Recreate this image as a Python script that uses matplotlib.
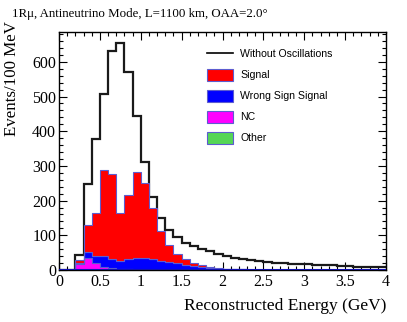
import numpy as np
import matplotlib
matplotlib.use("Agg")
import matplotlib.pyplot as plt
from matplotlib.patches import Patch
from matplotlib.lines import Line2D
from matplotlib.ticker import MultipleLocator, FuncFormatter

# ---- data (events per 100 MeV bin, 0-4 GeV) ----
bin_width = 0.1
n_bins = 40
no_osc = [0, 0, 42, 247, 378, 508, 631, 655, 571, 445, 311, 211, 149, 115, 96, 79,
          68, 61, 54, 47, 41, 36, 32, 29, 26, 23, 21, 19, 18, 17, 16, 15, 14, 13, 12,
          11, 10, 10, 9, 8]
other = [0, 0, 0, 1, 1, 1, 0, 0, 0, 0, 0, 0, 0, 0, 0, 0, 0, 0, 0, 0,
         0, 0, 0, 0, 0, 0, 0, 0, 0, 0, 0, 0, 0, 0, 0, 0, 0, 0, 0, 0]
nc = [0, 0, 17, 35, 18, 9, 6, 3, 2, 1, 1, 1, 0.5, 0.5, 0, 0, 0, 0, 0, 0,
      0, 0, 0, 0, 0, 0, 0, 0, 0, 0, 0, 0, 0, 0, 0, 0, 0, 0, 0, 0]
wrong_sign = [0, 0, 3, 15, 22, 31, 27, 23, 29, 35, 34, 30, 26.5, 21.5, 19, 15, 12, 9, 6, 4,
              3, 2, 1.5, 1, 1, 0.5, 0.5, 0.5, 0.5, 0.3, 0.3, 0.3, 0.2, 0.2, 0.2, 0.2,
              0.1, 0.1, 0.1, 0.1]
signal = [0, 0, 9, 79, 122, 248, 244, 139, 186, 246, 215, 147, 86, 51, 28, 16, 8, 4, 2, 1,
          0.5, 0.3, 0.2, 0.1, 0.1, 0, 0, 0, 0, 0, 0, 0, 0, 0, 0, 0, 0, 0, 0, 0]

title = "1R\u03bc, Antineutrino Mode, L=1100 km, OAA=2.0\u00b0"
labels = ["Without Oscillations", "Signal", "Wrong Sign Signal", "NC", "Other"]
colors = {"Signal": "#ff0000", "Wrong Sign Signal": "#0000ff", "NC": "#ff00ff", "Other": "#55d655"}
edge_col = "#5c5cd0"

edges = np.arange(n_bins + 1) * bin_width

fig = plt.figure(figsize=(4.07, 3.22), dpi=100)
ax = fig.add_axes([59 / 407, 1 - 270 / 322, (386 - 59) / 407, (270 - 32) / 322])

# No-oscillation line
ax.stairs(no_osc, edges, color="#1a1a1a", linewidth=1.6, baseline=None, zorder=2)

# Stacked fills: Other, NC, Wrong sign, Signal
base = np.zeros(n_bins)
for name, vals in [("Other", other), ("NC", nc), ("Wrong Sign Signal", wrong_sign), ("Signal", signal)]:
    vals = np.asarray(vals, dtype=float)
    top = base + vals
    ax.stairs(top, edges, baseline=base.copy(), fill=True, facecolor=colors[name],
              edgecolor=edge_col, linewidth=0.8, zorder=3)
    base = top
# baseline outline
ax.stairs(np.zeros(n_bins), edges, baseline=None, color="#1010b0", linewidth=1.5, zorder=4)

ax.set_xlim(0, 4)
ax.set_ylim(0, 686)

serif = "Liberation Serif"
ax.xaxis.set_major_locator(MultipleLocator(0.5))
ax.xaxis.set_minor_locator(MultipleLocator(0.1))
ax.yaxis.set_major_locator(MultipleLocator(100))
ax.yaxis.set_minor_locator(MultipleLocator(20))
ax.xaxis.set_major_formatter(FuncFormatter(lambda v, p: "%g" % v))
ax.tick_params(which="both", direction="in", top=True, right=True, labelsize=11.5)
ax.tick_params(which="major", length=6, width=0.8)
ax.tick_params(which="minor", length=3, width=0.8)
ax.tick_params(axis="x", pad=3)
ax.tick_params(axis="y", pad=2)
for lab in ax.get_xticklabels() + ax.get_yticklabels():
    lab.set_fontfamily(serif)
for s in ax.spines.values():
    s.set_linewidth(1.0)

ax.set_xlabel("Reconstructed Energy (GeV)", fontfamily=serif, fontsize=12.5, loc="right", labelpad=6)
ax.set_ylabel("Events/100 MeV", fontfamily=serif, fontsize=12.2, loc="top")
ax.yaxis.set_label_coords(-0.118, (270 - 21) / 238)

fig.text(12 / 407, 1 - 14 / 322, title, fontfamily=serif, fontsize=9.3, ha="left", va="center")

handles = [Line2D([], [], color="black", linewidth=1.2)]
for name in labels[1:]:
    handles.append(Patch(facecolor=colors[name], edgecolor=edge_col, linewidth=0.8))
leg = ax.legend(handles, labels, loc="upper left", bbox_to_anchor=((207 - 59) / 327, (270 - 48) / 238),
                frameon=False, prop={"family": "Liberation Sans", "size": 7.6},
                handlelength=2.5, handleheight=1.3, labelspacing=0.9, handletextpad=0.65,
                borderaxespad=0, borderpad=0)

fig.savefig("out.png", dpi=100)
